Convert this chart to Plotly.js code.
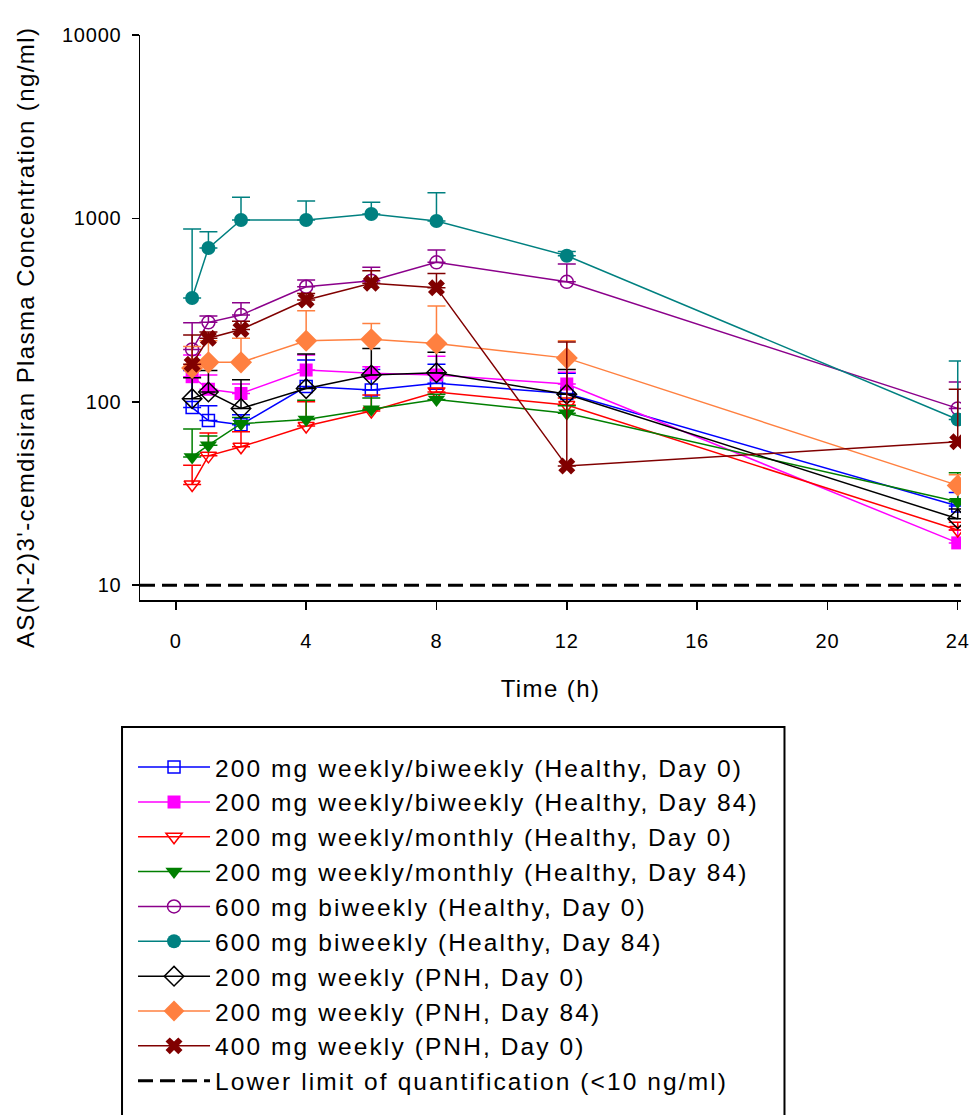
<!DOCTYPE html>
<html>
<head>
<meta charset="utf-8">
<script src="https://cdn.plot.ly/plotly-3.0.1.min.js"></script>
<style>
  html, body { margin: 0; padding: 0; background: #ffffff; }
  #chart { width: 971px; height: 1115px; }
  text.legendtext { letter-spacing: 2.1px; }
  .xtick text, .ytick text { letter-spacing: 0.8px; }
  text.xtitle, text.annotation-text { letter-spacing: 1.4px; }
</style>
</head>
<body>
<div id="chart"></div>
<script>
// Time points (h)
const time = [0.5, 1, 2, 4, 6, 8, 12, 24];

// Series names (legend)
const seriesNames = [
  "200 mg weekly/biweekly (Healthy, Day 0)",
  "200 mg weekly/biweekly (Healthy, Day 84)",
  "200 mg weekly/monthly (Healthy, Day 0)",
  "200 mg weekly/monthly (Healthy, Day 84)",
  "600 mg biweekly (Healthy, Day 0)",
  "600 mg biweekly (Healthy, Day 84)",
  "200 mg weekly (PNH, Day 0)",
  "200 mg weekly (PNH, Day 84)",
  "400 mg weekly (PNH, Day 0)",
  "Lower limit of quantification (<10 ng/ml)"
];

// Mean concentrations (ng/ml) and upper error-bar ends (mean + SD)
const wbHealthyD0       = [93, 79, 75, 121, 116, 126, 111, 27];
const wbHealthyD0Upper  = [148, 95, 85, 169, 150, 160, 143, 32];
const wbHealthyD84      = [137, 117, 111, 149, 143, 140, 125, 17];
const wbHealthyD84Upper = [180, 140, 125, 180, 155, 177, 145, 20];
const wmHealthyD0       = [35.4, 50.7, 56.8, 73.7, 89, 113, 96, 20];
const wmHealthyD0Upper  = [45, 67.5, 68.6, 100, 109, 119, 105, 22];
const wmHealthyD84      = [50, 58, 76, 80, 91, 103, 86.5, 28.5];
const wmHealthyD84Upper = [71, 65, 82, 102, 105, 110, 95, 41];
const bw600D0           = [193, 271, 297, 424, 457, 576, 451, 92];
const bw600D0Upper      = [270, 294, 347, 461, 541, 672, 564, 128];
const bw600D84          = [368, 689, 980, 980, 1057, 968, 626, 80];
const bw600D84Upper     = [875, 846, 1303, 1245, 1224, 1380, 660, 167];
const pnh200D0          = [104, 113, 92, 118, 140, 144, 110, 23];
const pnh200D0Upper     = [135, 148, 132, 182, 195, 186, 150, 26];
const pnh200D84         = [153, 164, 164, 215, 219, 208, 173, 35];
const pnh200D84Upper    = [200, 215, 222, 314, 267, 333, 215, 40];
const pnh400D0          = [160, 222, 248, 359, 443, 419, 44.6, 60.5];
const pnh400D0Upper     = [231, 240, 275, 390, 518, 501, 212, 117];

// Lower limit of quantification
const lloq = 10;

// Axis settings
const xRange = [-1.1, 24.1];
const xTicks = [0, 4, 8, 12, 16, 20, 24];
const yTicks = [10, 100, 1000, 10000];
const yTickText = ["10", "100", "1000", "10000"];
const yTitle = "AS(N-2)3'-cemdisiran Plasma Concentration (ng/ml)";

const FONT = "Liberation Sans, Arial, sans-serif";

function makeTrace(name, y, upper, color, symbol, size, open) {
  const plus = upper.map((u, i) => Math.max(u - y[i], 0));
  return {
    type: "scatter",
    mode: "lines+markers",
    name: name,
    x: time,
    y: y,
    line: { color: color, width: 1.5 },
    marker: {
      symbol: symbol,
      size: size,
      color: color,
      line: { color: color, width: open ? 1.5 : 0 }
    },
    error_y: {
      type: "data",
      symmetric: false,
      array: plus,
      arrayminus: y.map(() => 0),
      color: color,
      thickness: 1.5,
      width: 9
    }
  };
}

const traces = [
  makeTrace(seriesNames[0], wbHealthyD0, wbHealthyD0Upper, "#0000FF", "square-open", 12, true),
  makeTrace(seriesNames[1], wbHealthyD84, wbHealthyD84Upper, "#FF00FF", "square", 13, false),
  makeTrace(seriesNames[2], wmHealthyD0, wmHealthyD0Upper, "#FF0000", "triangle-down-open", 14, true),
  makeTrace(seriesNames[3], wmHealthyD84, wmHealthyD84Upper, "#007F00", "triangle-down", 15, false),
  makeTrace(seriesNames[4], bw600D0, bw600D0Upper, "#8B008B", "circle-open", 13, true),
  makeTrace(seriesNames[5], bw600D84, bw600D84Upper, "#008080", "circle", 14, false),
  makeTrace(seriesNames[6], pnh200D0, pnh200D0Upper, "#000000", "diamond-open", 15, true),
  makeTrace(seriesNames[7], pnh200D84, pnh200D84Upper, "#FF8040", "diamond", 17, false),
  makeTrace(seriesNames[8], pnh400D0, pnh400D0Upper, "#800000", "x", 15, false),
  {
    type: "scatter",
    mode: "lines",
    name: seriesNames[9],
    x: xRange,
    y: [lloq, lloq],
    line: { color: "#000000", width: 3, dash: "15px,7px" },
    hoverinfo: "skip"
  }
];

const layout = {
  width: 971,
  height: 1115,
  paper_bgcolor: "#ffffff",
  plot_bgcolor: "#ffffff",
  font: { family: FONT, color: "#000000", size: 20 },
  margin: { l: 140, r: 10, t: 35, b: 515, autoexpand: false },
  showlegend: true,
  xaxis: {
    range: xRange,
    tickmode: "array",
    tickvals: xTicks,
    ticktext: xTicks.map(String),
    ticks: "outside",
    ticklen: 8,
    tickwidth: 1.5,
    tickcolor: "#000000",
    ticklabelstandoff: 14,
    showline: true,
    linecolor: "#000000",
    linewidth: 1.5,
    showgrid: false,
    zeroline: false,
    automargin: false,
    tickfont: { family: FONT, size: 20, color: "#000000" },
    title: { text: "Time (h)", font: { family: FONT, size: 24, color: "#000000" }, standoff: 29 }
  },
  yaxis: {
    type: "log",
    range: [Math.log10(8.3), 4],
    tickmode: "array",
    tickvals: yTicks,
    ticktext: yTickText,
    ticks: "outside",
    ticklen: 7,
    tickwidth: 1.5,
    tickcolor: "#000000",
    ticklabelstandoff: 6,
    showline: true,
    linecolor: "#000000",
    linewidth: 1.5,
    showgrid: false,
    zeroline: false,
    automargin: false,
    tickfont: { family: FONT, size: 20, color: "#000000" }
  },
  annotations: [
    {
      text: yTitle,
      xref: "paper",
      yref: "paper",
      x: -0.14,
      y: 0.4637,
      xanchor: "center",
      yanchor: "middle",
      textangle: -90,
      showarrow: false,
      font: { family: FONT, size: 24, color: "#000000" }
    }
  ],
  legend: {
    x: -0.0085,
    xanchor: "left",
    y: -0.256,
    yanchor: "top",
    bgcolor: "rgba(0,0,0,0)",
    borderwidth: 0,
    itemwidth: 72,
    font: { family: FONT, size: 24.5, color: "#000000" },
    traceorder: "normal"
  },
  shapes: [
    {
      type: "rect",
      xref: "paper",
      yref: "paper",
      x0: -0.0219,
      x1: 0.785,
      y0: -0.2248,
      y1: -0.95,
      line: { color: "#000000", width: 2 },
      fillcolor: "rgba(0,0,0,0)",
      layer: "below"
    }
  ]
};

Plotly.newPlot("chart", traces, layout, { staticPlot: true, displayModeBar: false });
</script>
</body>
</html>
